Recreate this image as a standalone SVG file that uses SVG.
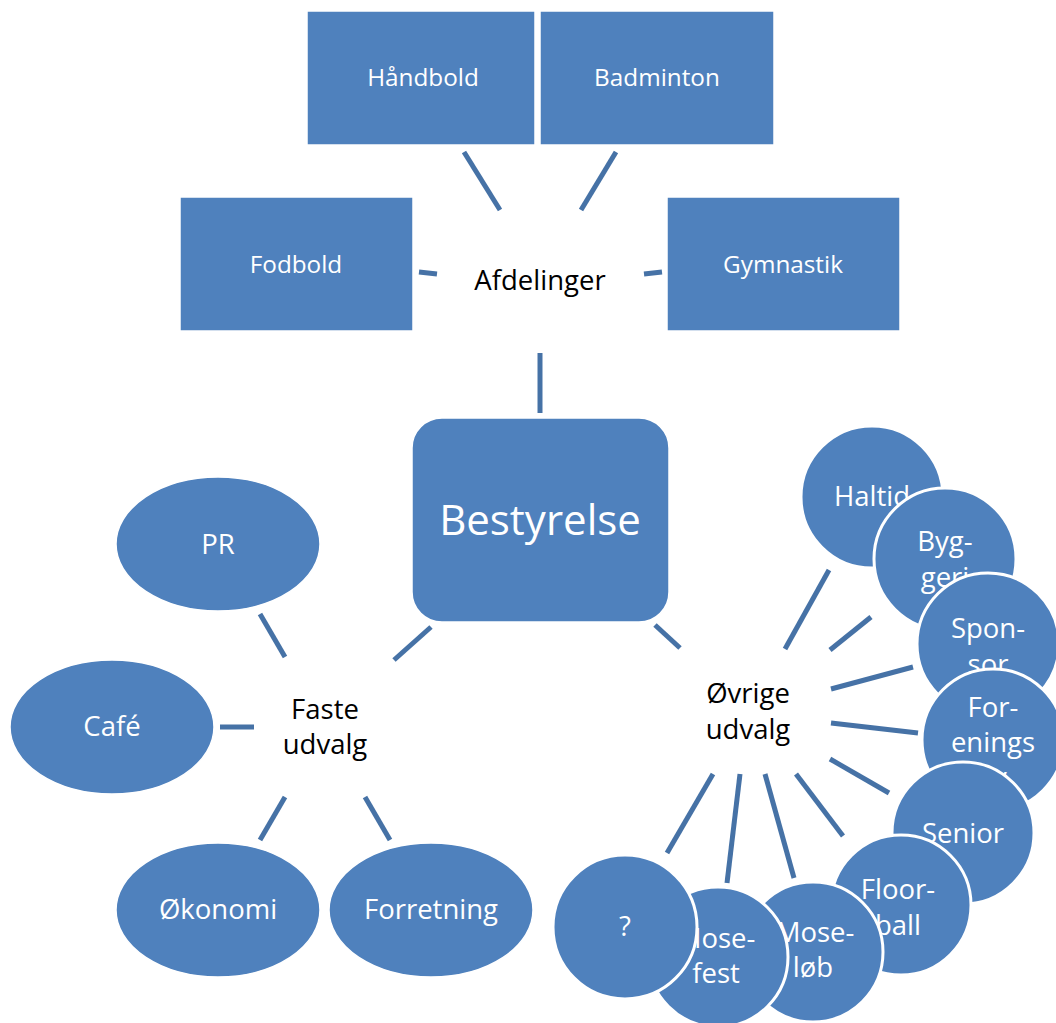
<svg xmlns="http://www.w3.org/2000/svg" width="1056" height="1023" viewBox="0 0 1056 1023">
<style>
.box{fill:#4f81bd;stroke:#ffffff;stroke-width:1.5}
.circ{fill:#4f81bd;stroke:#ffffff;stroke-width:3}
.wt{fill:#ffffff;font-family:"Open Sans","Liberation Sans",sans-serif;font-size:24.3px;text-anchor:middle}
.ct{fill:#ffffff;font-family:"Open Sans","Liberation Sans",sans-serif;font-size:27.5px;text-anchor:middle}
.bt{fill:#000000;font-family:"Open Sans","Liberation Sans",sans-serif;font-size:27.5px;text-anchor:middle}
.big{fill:#ffffff;font-family:"Open Sans","Liberation Sans",sans-serif;font-size:42px;text-anchor:middle}
.con line{stroke:#4672a6;stroke-width:5}
</style>
<rect width="1056" height="1023" fill="#ffffff"/>
<g id="connectors" class="con">
<line x1="464" y1="152" x2="500" y2="210"/>
<line x1="616" y1="152" x2="581" y2="210"/>
<line x1="419" y1="272" x2="437" y2="274"/>
<line x1="644" y1="274" x2="662" y2="272"/>
<line x1="540" y1="353" x2="540" y2="413"/>
<line x1="394" y1="660" x2="431" y2="627"/>
<line x1="655" y1="625" x2="680" y2="648"/>
<line x1="260" y1="614" x2="285" y2="657"/>
<line x1="220" y1="727" x2="254" y2="727"/>
<line x1="285" y1="797" x2="260" y2="840"/>
<line x1="365" y1="797" x2="390" y2="840"/>
<line x1="829" y1="570" x2="785" y2="649"/>
<line x1="871" y1="617" x2="830" y2="650"/>
<line x1="913" y1="667" x2="831" y2="689"/>
<line x1="831" y1="723" x2="918" y2="733"/>
<line x1="830" y1="759" x2="889" y2="793"/>
<line x1="796" y1="774" x2="843" y2="836"/>
<line x1="765" y1="774" x2="794" y2="878"/>
<line x1="740" y1="774" x2="727" y2="883"/>
<line x1="713" y1="774" x2="667" y2="853"/>
</g>
<g id="afdelinger"><text class="bt" x="540" y="290">Afdelinger</text></g>
<g id="haandbold"><rect class="box" x="307" y="11" width="228" height="134"/><text class="wt" x="423" y="86">Håndbold</text></g>
<g id="badminton"><rect class="box" x="540" y="11" width="234" height="134"/><text class="wt" x="657" y="86">Badminton</text></g>
<g id="fodbold"><rect class="box" x="180" y="197" width="233" height="134"/><text class="wt" x="296" y="273">Fodbold</text></g>
<g id="gymnastik"><rect class="box" x="667" y="197" width="233" height="134"/><text class="wt" x="783" y="273">Gymnastik</text></g>
<g id="bestyrelse"><rect class="box" x="412" y="418" width="257" height="204" rx="30"/><text class="big" x="540" y="535">Bestyrelse</text></g>
<g id="faste"><text class="bt" x="325" y="719">Faste</text><text class="bt" x="325" y="754">udvalg</text></g>
<g id="ovrige"><text class="bt" x="748" y="703">Øvrige</text><text class="bt" x="748" y="739">udvalg</text></g>
<g id="pr"><ellipse class="box" cx="218" cy="544" rx="102" ry="67"/><text class="ct" x="218" y="554">PR</text></g>
<g id="cafe"><ellipse class="box" cx="112" cy="727" rx="102" ry="67"/><text class="ct" x="112" y="736">Café</text></g>
<g id="okonomi"><ellipse class="box" cx="218" cy="910" rx="102" ry="67"/><text class="ct" x="218" y="919">Økonomi</text></g>
<g id="forretning"><ellipse class="box" cx="431" cy="910" rx="102" ry="67"/><text class="ct" x="431" y="919">Forretning</text></g>
<g id="haltid"><circle class="circ" cx="872" cy="497" r="71"/><text class="ct" x="872" y="506">Haltid</text></g>
<g id="byggeri"><circle class="circ" cx="945" cy="559" r="71"/><text class="ct" x="945" y="551">Byg-</text><text class="ct" x="945" y="587">geri</text></g>
<g id="sponsor"><circle class="circ" cx="988" cy="644" r="71"/><text class="ct" x="988" y="638">Spon-</text><text class="ct" x="988" y="674">sor</text></g>
<g id="foreningsliv"><circle class="circ" cx="993" cy="740" r="71"/><text class="ct" x="993" y="717">For-</text><text class="ct" x="993" y="752">enings</text><text class="ct" x="993" y="787">liv</text></g>
<g id="senior"><circle class="circ" cx="963" cy="833" r="71"/><text class="ct" x="963" y="843">Senior</text></g>
<g id="floorball"><circle class="circ" cx="901" cy="905" r="70"/><text class="ct" x="898" y="899">Floor-</text><text class="ct" x="898" y="935">ball</text></g>
<g id="moselob"><circle class="circ" cx="813" cy="952" r="70"/><text class="ct" x="815" y="942">Mose-</text><text class="ct" x="813" y="977">løb</text></g>
<g id="mosefest"><circle class="circ" cx="718" cy="957" r="70"/><text class="ct" x="716" y="948">Mose-</text><text class="ct" x="716" y="983">fest</text></g>
<g id="question"><circle class="circ" cx="625" cy="927" r="72"/><text class="ct" x="625" y="936">?</text></g>
</svg>
